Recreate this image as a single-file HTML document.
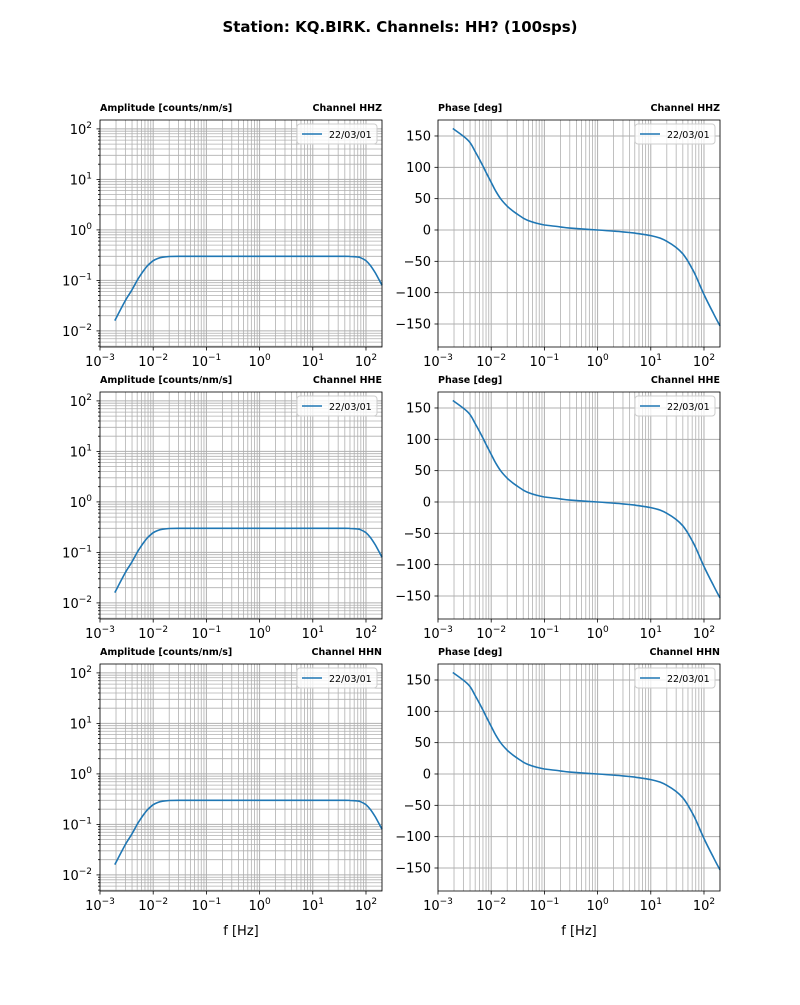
<!DOCTYPE html>
<html><head><meta charset="utf-8"><style>
body{margin:0;background:#fff;font-family:"Liberation Sans","DejaVu Sans",sans-serif}
svg text{font-family:"DejaVu Sans","Liberation Sans",sans-serif}
</style></head><body>
<svg id="fig" width="800" height="1000" xmlns="http://www.w3.org/2000/svg">
<rect width="800" height="1000" fill="#fff"/>
<text x="400" y="32" text-anchor="middle" font-size="15" font-weight="bold">Station: KQ.BIRK. Channels: HH? (100sps)</text>
</svg>
<script>
const freqs=[0.0019,0.003,0.004,0.005,0.006,0.007,0.008,0.01,0.012,0.015,0.02,0.03,0.05,1,10,40,50,60,70,80,100,120,150,200];
const amps=[0.016,0.04,0.065,0.1,0.135,0.17,0.2,0.245,0.27,0.288,0.297,0.3,0.3,0.3,0.3,0.3,0.298,0.295,0.29,0.28,0.245,0.2,0.14,0.08];
const phaseFreqs=[0.0019,0.0037,0.005,0.006,0.007,0.008,0.01,0.012,0.015,0.02,0.025,0.03,0.04,0.05,0.07,0.1,0.2,0.3,1,3,5,10,15,20,30,40,50,60,70,100,150,200];
const phases=[162,143,125,113,102,92,76,63,50,38,31,26,19,15,11,8,5,3,0,-3,-5,-9,-13,-18,-28,-38,-50,-62,-73,-103,-133,-153];
const channels=["HHZ","HHE","HHN"];
const xTickExps=[-3,-2,-1,0,1,2];
const ampTickExps=[-2,-1,0,1,2];
const phaseTicks=[-150,-100,-50,0,50,100,150];
const legendLabel="22/03/01";

const svg=document.getElementById('fig');
const NS='http://www.w3.org/2000/svg';
function mk(tag,attrs,parent){const e=document.createElementNS(NS,tag);for(const k in attrs)e.setAttribute(k,attrs[k]);(parent||svg).appendChild(e);return e;}
const W=282,H=227,tops=[120,392,664],lefts=[100,438];
const xmin=Math.log10(0.001),xmax=Math.log10(200);
function sx(x0,f){return x0+(Math.log10(f)-xmin)/(xmax-xmin)*W;}
const amin=Math.log10(0.0048),amax=Math.log10(150);
function sya(y0,v){return y0+H-(Math.log10(v)-amin)/(amax-amin)*H;}
const pmin=-186.7,pmax=175.5;
function syp(y0,v){return y0+H-(v-pmin)/(pmax-pmin)*H;}
function smooth(pts){let d='M'+pts[0][0].toFixed(1)+','+pts[0][1].toFixed(1);
 for(let i=0;i<pts.length-1;i++){const p0=pts[Math.max(0,i-1)],p1=pts[i],p2=pts[i+1],p3=pts[Math.min(pts.length-1,i+2)];
  const c1=[p1[0]+(p2[0]-p0[0])/6,p1[1]+(p2[1]-p0[1])/6],c2=[p2[0]-(p3[0]-p1[0])/6,p2[1]-(p3[1]-p1[1])/6];
  d+='C'+c1.map(v=>v.toFixed(1)).join(',')+' '+c2.map(v=>v.toFixed(1)).join(',')+' '+p2[0].toFixed(1)+','+p2[1].toFixed(1);}
 return d;}

channels.forEach((ch,r)=>{
 const y0=tops[r];
 [0,1].forEach(c=>{
  const x0=lefts[c];const isAmp=c===0;
  const g=mk('g',{});
  
  
  for(let e=-3;e<=2;e++)for(let m=1;m<10;m++){const f=m*Math.pow(10,e);if(f>200)continue;const x=sx(x0,f);
   const l=mk('line',{x1:x,x2:x,y1:y0,y2:y0+H,stroke:'#b0b0b0','stroke-width':m===1?1:0.8},g);
   }
  if(isAmp){
   for(let e=-3;e<=2;e++)for(let m=1;m<10;m++){const v=m*Math.pow(10,e);if(v<0.0048||v>150)continue;const y=sya(y0,v);
    const l=mk('line',{x1:x0,x2:x0+W,y1:y,y2:y,stroke:'#b0b0b0','stroke-width':m===1?1:0.8},g);
    
    mk('line',{x1:x0,x2:x0-(m===1?3.5:2),y1:y,y2:y,stroke:'#000','stroke-width':0.8},g);}
   ampTickExps.forEach(e=>{const y=sya(y0,Math.pow(10,e));
    const t=mk('text',{x:x0-8,y:y+5,'text-anchor':'end','font-size':13},g);t.innerHTML='10<tspan dy="-6" font-size="9">'+(e<0?'\u2212'+(-e):e)+'</tspan>';
    });
  }else{
   phaseTicks.forEach(v=>{const y=syp(y0,v);
    const l=mk('line',{x1:x0,x2:x0+W,y1:y,y2:y,stroke:'#b0b0b0','stroke-width':1},g);
    
    mk('line',{x1:x0,x2:x0-3.5,y1:y,y2:y,stroke:'#000','stroke-width':0.8},g);
    const t=mk('text',{x:x0-7,y:y+4.5,'text-anchor':'end','font-size':13},g);t.textContent=v<0?'\u2212'+(-v):v;
    });
  }
  xTickExps.forEach(e=>{const x=sx(x0,Math.pow(10,e));
   mk('line',{x1:x,x2:x,y1:y0+H,y2:y0+H+3.5,stroke:'#000','stroke-width':0.8},g);
   const t=mk('text',{x:x,y:y0+H+19,'text-anchor':'middle','font-size':13},g);t.innerHTML='10<tspan dy="-6" font-size="9">'+(e<0?'\u2212'+(-e):e)+'</tspan>';
   });
  const fx=isAmp?freqs:phaseFreqs,vy=isAmp?amps:phases;
  const pts=fx.map((f,i)=>[sx(x0,f),isAmp?sya(y0,vy[i]):syp(y0,vy[i])]);
  const p=mk('path',{d:smooth(pts),fill:'none',stroke:'#1f77b4','stroke-width':1.6,'stroke-linejoin':'round'},g);
  
  mk('rect',{x:x0,y:y0,width:W,height:H,fill:'none',stroke:'#000','stroke-width':0.8},g);
  const tl=mk('text',{x:x0,y:y0-9,'font-size':9.5,'font-weight':'bold'},g);tl.textContent=isAmp?'Amplitude [counts/nm/s]':'Phase [deg]';
  
  const tr=mk('text',{x:x0+W,y:y0-9,'font-size':9.5,'font-weight':'bold','text-anchor':'end'},g);tr.textContent='Channel '+ch;
  
  const lg=mk('g',{},g);
  
  mk('rect',{x:x0+W-85,y:y0+4,width:80,height:20,rx:3,fill:'#fff','fill-opacity':0.8,stroke:'#ccc'},lg);
  mk('line',{x1:x0+W-80,x2:x0+W-60,y1:y0+14,y2:y0+14,stroke:'#1f77b4','stroke-width':1.6},lg);
  const lt=mk('text',{x:x0+W-53,y:y0+18,'font-size':9.5},lg);lt.textContent=legendLabel;
  if(r===2){const xl=mk('text',{x:x0+W/2,y:y0+H+44,'text-anchor':'middle','font-size':13},g);xl.textContent='f [Hz]';
   }
 });
});
</script>
</body></html>
